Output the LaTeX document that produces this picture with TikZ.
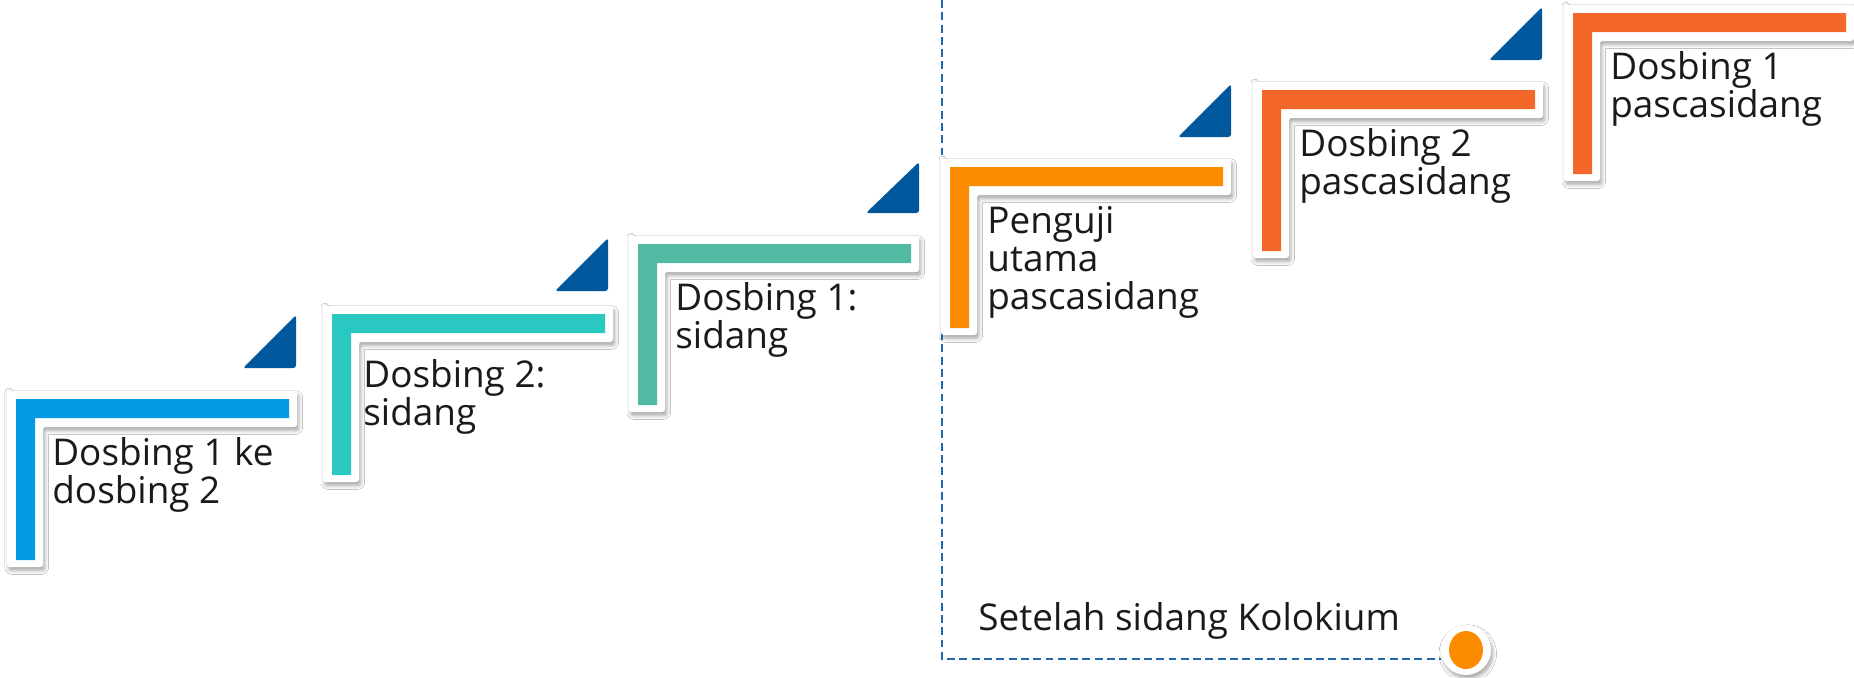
\documentclass[tikz,border=0pt]{standalone}
\usepackage{fontspec}
\setmainfont{Open Sans}
\usetikzlibrary{shadows.blur}
\definecolor{stepblue}{HTML}{0399E3}
\definecolor{stepteal}{HTML}{29C8C0}
\definecolor{stepsea}{HTML}{52B9A3}
\definecolor{steporange}{HTML}{FB8C00}
\definecolor{stepred}{HTML}{F4672A}
\definecolor{triblue}{HTML}{00579C}
\definecolor{dashblue}{HTML}{2068B0}
\definecolor{textgray}{HTML}{1A1A1A}

\begin{document}
\begin{tikzpicture}[x=0.02cm,y=-0.02cm,
  stepframe/.style={fill=white,rounded corners=1.5pt,blur shadow={shadow xshift=1pt,shadow yshift=-2pt,shadow blur steps=6,shadow opacity=35}},
  tri/.style={fill=triblue,rounded corners=1.5pt},
  steptext/.style={anchor=base west,align=left,inner sep=0pt,font=\fontsize{21}{21.6}\selectfont,text=textgray},
  dashline/.style={draw=dashblue,line width=1.1pt,dash pattern=on 4.5pt off 2.5pt},
  dotring/.style={circle,fill=white,minimum size=1cm,inner sep=0pt,blur shadow={shadow xshift=1pt,shadow yshift=-2pt,shadow blur steps=6,shadow opacity=35}}]
\fill[white] (0,0) rectangle (1854,677);
\useasboundingbox (0,0) rectangle (1854,677);

% dashed frame round the steps after the colloquium
\node[dotring] (dot) at (1466,650) {};
\fill[steporange] (dot.center) ellipse [x radius=0.34cm, y radius=0.38cm];
\coordinate (dashtop) at (942,0);
\coordinate (dashcorner) at (942,659);
\draw[dashline] (dashtop) -- (dashcorner) -- (dot.west |- dashcorner);
\node[steptext] (kolokium) at (978,630) {Setelah sidang Kolokium};

% step 1 (text anchored at the baseline of its last line)
\fill[stepframe] (7,391) -| (297,427) -| (43,567) -| cycle;
\fill[stepblue] (16,399) -| (289,418) -| (35,560) -| cycle;
\fill[tri] (243,368) -- (296,368) -- (296,315) -- cycle;
\node[steptext] (s1) at (52,503) {Dosbing 1 ke\\dosbing 2};
% step 2
\fill[stepframe] (323,306) -| (613,342) -| (359,482) -| cycle;
\fill[stepteal] (332,314) -| (605,333) -| (351,475) -| cycle;
\fill[tri] (555,291) -- (608,291) -- (608,238) -- cycle;
\node[steptext] (s2) at (363,425) {Dosbing 2:\\sidang};
% step 3
\fill[stepframe] (629,236) -| (919,272) -| (665,412) -| cycle;
\fill[stepsea] (638,244) -| (911,263) -| (657,405) -| cycle;
\fill[tri] (866,213) -- (919,213) -- (919,162) -- cycle;
\node[steptext] (s3) at (675,348) {Dosbing 1:\\sidang};
% step 4
\fill[stepframe] (941,159) -| (1231,195) -| (977,335) -| cycle;
\fill[steporange] (950,167) -| (1223,186) -| (969,328) -| cycle;
\fill[tri] (1178,137) -- (1231,137) -- (1231,84) -- cycle;
\node[steptext] (s4) at (987,309) {Penguji\\utama\\pascasidang};
% step 5
\fill[stepframe] (1253,82) -| (1543,118) -| (1289,258) -| cycle;
\fill[stepred] (1262,90) -| (1535,109) -| (1281,251) -| cycle;
\fill[tri] (1489,60) -- (1542,60) -- (1542,7) -- cycle;
\node[steptext] (s5) at (1299,194) {Dosbing 2\\pascasidang};
% step 6
\fill[stepframe] (1564,5) -| (1854,41) -| (1600,181) -| cycle;
\fill[stepred] (1573,13) -| (1846,32) -| (1592,174) -| cycle;
\node[steptext] (s6) at (1610,117) {Dosbing 1\\pascasidang};
\end{tikzpicture}
\end{document}
